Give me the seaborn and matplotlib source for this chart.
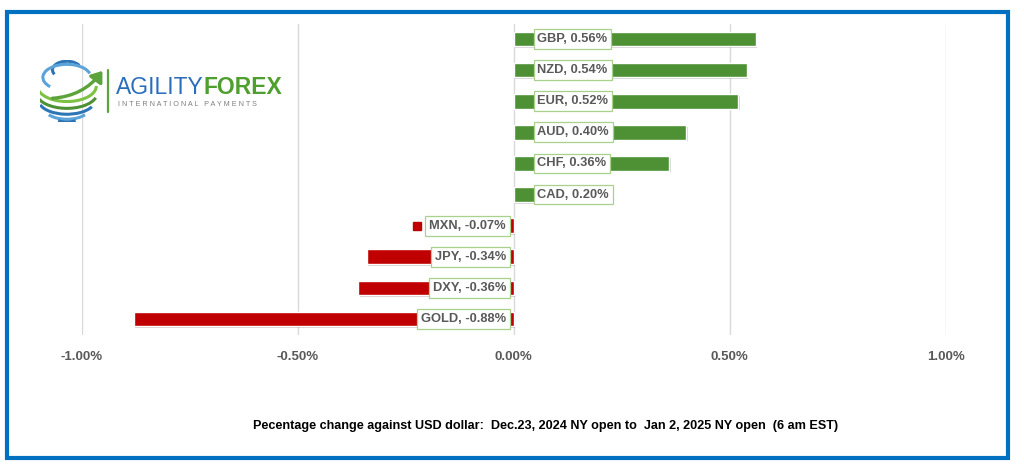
import matplotlib
matplotlib.use("Agg")
import matplotlib.pyplot as plt
import matplotlib.patheffects as pe
import seaborn as sns
import pandas as pd
import numpy as np
from matplotlib.patches import Rectangle, Arc, FancyArrowPatch
from matplotlib.lines import Line2D

# ---- data ----
currencies = ["GBP", "NZD", "EUR", "AUD", "CHF", "CAD", "MXN", "JPY", "DXY", "GOLD"]
changes = [0.56, 0.54, 0.52, 0.40, 0.36, 0.20, -0.07, -0.34, -0.36, -0.88]
tick_values = [-1.0, -0.5, 0.0, 0.5, 1.0]
tick_labels = ["-1.00%", "-0.50%", "0.00%", "0.50%", "1.00%"]
title_text = "Pecentage change against USD dollar:  Dec.23, 2024 NY open to  Jan 2, 2025 NY open  (6 am EST)"

GREEN = "#4E9134"
RED = "#C00000"
df = pd.DataFrame({"cur": currencies, "chg": changes})
df["color"] = np.where(df["chg"] >= 0, "pos", "neg")

sns.set_theme(style="white")
plt.rcParams["font.family"] = ["Liberation Sans", "DejaVu Sans"]

W, H = 1024, 471
fig = plt.figure(figsize=(W / 100, H / 100), dpi=100)
fig.patch.set_facecolor("white")

def px(x0, y0, x1, y1):
    return [x0 / W, 1 - y1 / H, (x1 - x0) / W, (y1 - y0) / H]

ax = fig.add_axes(px(82, 23.5, 945.5, 334.5))
sns.barplot(data=df, y="cur", x="chg", hue="color", palette={"pos": GREEN, "neg": RED},
            orient="h", width=0.47, dodge=False, legend=False, ax=ax, zorder=3,
            saturation=1)
for p in ax.patches:
    p.set_path_effects([pe.SimplePatchShadow(offset=(1.0, -1.2), alpha=0.2), pe.Normal()])
ax.set_xlim(-1.0, 1.0)
ax.set_ylim(9.5, -0.5)
ax.set_xticks(tick_values)
ax.set_xticklabels(tick_labels, fontsize=9.5, fontweight="bold", color="#595959")
ax.tick_params(axis="x", length=0, pad=12)
ax.set_yticks([])
ax.set_xlabel("")
ax.set_ylabel("")
for s in ax.spines.values():
    s.set_visible(False)
for v in tick_values:
    ax.axvline(v, color="#D9D9D9", lw=1, zorder=1)

# data labels
labels = []
for i, (c, v) in enumerate(zip(currencies, changes)):
    txt = f"{c}, {v:.2f}%"
    kw = dict(va="center", fontsize=9.3, fontweight="bold", color="#595959", zorder=5,
              bbox=dict(boxstyle="square,pad=0.3", fc="white", ec="#A9D18E", lw=0.9))
    if v >= 0:
        t = ax.text(0.055, i, txt, ha="left", **kw)
    else:
        t = ax.text(-0.018, i, txt, ha="right", **kw)
    labels.append(t)

# legend keys beside the labels (hidden behind bars except where bar is short)
fig.canvas.draw()
r = fig.canvas.get_renderer()
inv = ax.transData.inverted()
for i, (t, v) in enumerate(zip(labels, changes)):
    bb = t.get_bbox_patch().get_window_extent(r)
    xd, _ = inv.transform((bb.x0 - 8, 0))
    ax.plot([xd], [i], marker="s", ms=5.5, color=GREEN if v >= 0 else RED, zorder=2,
            linestyle="none")

# title
fig.text(546 / W, 1 - 426 / H, title_text, ha="center", va="center", fontsize=9.1,
         fontweight="bold", color="black")

# logo
lax = fig.add_axes(px(40, 60, 104, 122))
lax.set_xlim(0, 1)
lax.set_ylim(0, 1)
lax.axis("off")
for (w, hgt, yc, th1, th2, col) in [
        (0.45, 0.28, 0.84, 20, 200, "#2E75B6"),
        (0.75, 0.42, 0.72, 10, 210, "#5BA3D9"),
        (0.92, 0.5, 0.58, 190, 360, "#7DC242"),
        (0.95, 0.5, 0.47, 185, 350, "#4E9134"),
        (0.88, 0.45, 0.35, 190, 345, "#2E75B6"),
        (0.7, 0.35, 0.22, 200, 340, "#5BA3D9"),
        (0.45, 0.2, 0.1, 210, 330, "#2E75B6")]:
    lax.add_patch(Arc((0.42, yc), w, hgt, theta1=th1, theta2=th2, color=col, lw=2.2))
lax.add_patch(FancyArrowPatch((0.15, 0.38), (1.0, 0.86), connectionstyle="arc3,rad=0.25",
                              arrowstyle="-|>,head_width=3,head_length=4", color="#5BA33A",
                              lw=2.4, mutation_scale=1.5))
fig.add_artist(Line2D([108 / W, 108 / W], [1 - 70 / H, 1 - 112 / H], color="#5BA33A", lw=1.6))
t1 = fig.text(116 / W, 1 - 88 / H, "AGILITY", ha="left", va="center", fontsize=16.5,
              color="#2A6EBB")
fig.canvas.draw()
bb = t1.get_window_extent(fig.canvas.get_renderer())
fig.text(bb.x1 / W, 1 - 88 / H, "FOREX", ha="left", va="center", fontsize=16.5,
         color="#4E9F2E", fontweight="bold")
fig.text(118 / W, 1 - 104 / H, "I N T E R N A T I O N A L   P A Y M E N T S", ha="left",
         va="center", fontsize=5.2, color="#7F7F7F")

# blue frame
fig.add_artist(Rectangle((7 / W, 1 - 458 / H), (1008 - 7) / W, (458 - 12) / H,
                         transform=fig.transFigure, fill=False, ec="#0070C0", lw=3))

fig.savefig("out.png", dpi=100)
